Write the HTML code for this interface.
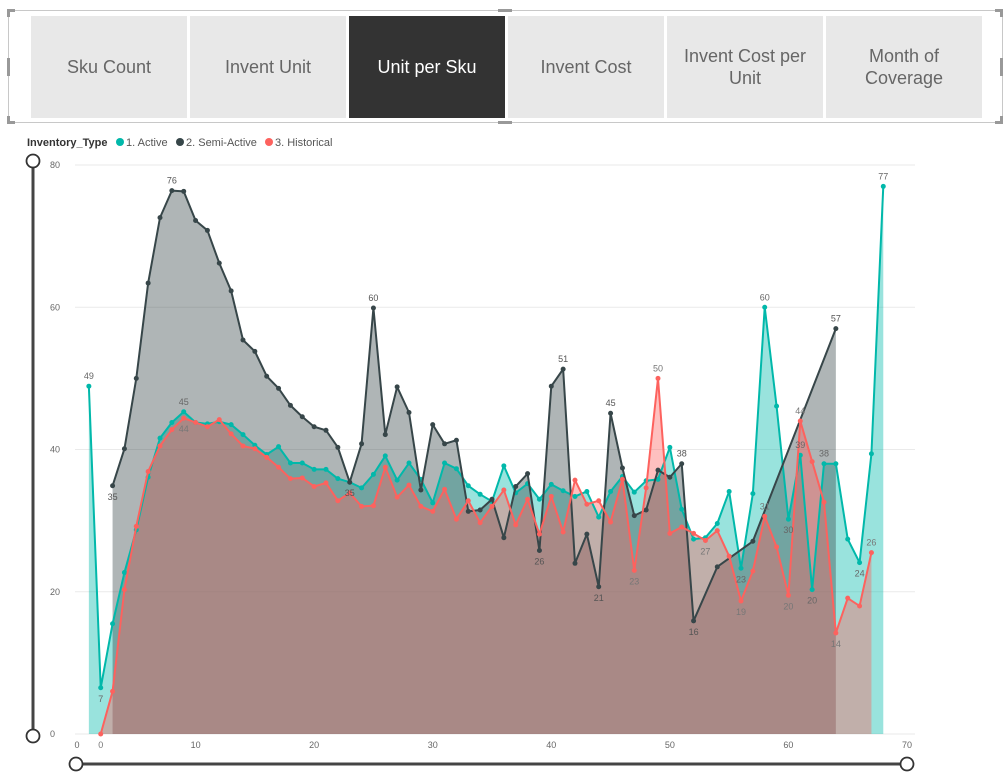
<!DOCTYPE html>
<html><head><meta charset="utf-8">
<style>
body{margin:0;width:1005px;height:783px;background:#fff;font-family:"Liberation Sans",sans-serif;overflow:hidden;position:relative}
.frame{position:absolute;left:8px;top:10px;width:995px;height:113px;border:1px solid #c8c8c8;box-sizing:border-box}
.tab{position:absolute;top:16px;height:102px;width:156px;background:#e8e8e8;color:#666;font-size:18px;display:flex;align-items:center;justify-content:center;text-align:center;line-height:22px}
.tab.sel{background:#333;color:#fff}
.h{position:absolute;background:#999}
</style></head><body>
<div class="frame"></div>
<div class="h" style="left:7px;top:9px;width:8px;height:3px"></div>
<div class="h" style="left:7px;top:9px;width:3px;height:8px"></div>
<div class="h" style="left:7px;top:58px;width:3px;height:18px"></div>
<div class="h" style="left:7px;top:116px;width:3px;height:8px"></div>
<div class="h" style="left:7px;top:121px;width:8px;height:3px"></div>
<div class="h" style="left:498px;top:9px;width:14px;height:3px"></div>
<div class="h" style="left:498px;top:121px;width:14px;height:3px"></div>
<div class="h" style="left:995px;top:9px;width:8px;height:3px"></div>
<div class="h" style="left:1000px;top:9px;width:3px;height:8px"></div>
<div class="h" style="left:1000px;top:58px;width:3px;height:18px"></div>
<div class="h" style="left:1000px;top:116px;width:3px;height:8px"></div>
<div class="h" style="left:995px;top:121px;width:8px;height:3px"></div>
<div class="tab" style="left:31px">Sku Count</div>
<div class="tab" style="left:190px">Invent Unit</div>
<div class="tab sel" style="left:349px">Unit per Sku</div>
<div class="tab" style="left:508px">Invent Cost</div>
<div class="tab" style="left:667px">Invent Cost per<br>Unit</div>
<div class="tab" style="left:826px">Month of<br>Coverage</div>

<svg id="chart" width="1005" height="783" style="position:absolute;left:0;top:0"></svg>

<script>
const xs = [];for(let i=1;i<=68;i++)xs.push(i);
const activeVals=[48.9,6.5,15.5,22.7,28.7,36.1,41.6,43.8,45.3,43.8,43.6,43.9,43.5,42.1,40.6,39.3,40.4,38.1,38.1,37.2,37.2,35.9,35.4,34.6,36.5,39.1,35.7,38.1,35.8,32.5,38.1,37.3,34.9,33.7,32.7,37.7,33.9,35.2,33.0,35.1,34.2,33.4,34.1,30.5,34.1,36.2,34.0,35.6,35.8,40.3,31.6,27.4,27.6,29.6,34.1,23.3,33.8,60.0,46.1,30.2,39.2,20.3,38.0,38.0,27.4,24.1,39.4,77.0];
const semiVals=[null,null,34.9,40.1,50.0,63.4,72.6,76.4,76.3,72.2,70.8,66.2,62.3,55.4,53.8,50.3,48.6,46.2,44.6,43.2,42.7,40.3,35.4,40.8,59.9,42.1,48.8,45.2,34.3,43.5,40.8,41.3,31.3,31.5,33.0,27.6,34.8,36.6,25.8,48.9,51.3,24.0,28.1,20.7,45.1,37.4,30.7,31.5,37.1,36.1,38.0,15.9,null,23.5,null,null,27.1,null,null,null,null,null,null,57.0,null,null,null,null];
const histVals=[null,0,6.0,20.3,29.2,36.9,40.5,42.8,44.4,43.8,43.2,44.2,42.2,40.5,40.1,38.9,37.5,35.9,36.0,34.8,35.3,32.8,33.9,32.0,32.1,37.5,33.3,35.0,32.0,31.3,34.4,30.2,32.8,29.7,32.0,34.3,29.4,33.0,28.1,33.4,28.4,35.7,32.3,32.8,29.8,35.8,23.0,34.6,50.0,28.2,29.1,28.2,27.2,28.6,25.0,18.7,22.9,30.6,26.3,19.5,44.0,38.3,32.6,14.2,19.1,18.0,25.5,null];
const yTicks=[0,20,40,60,80];
const xTicks=[0,10,20,30,40,50,60,70];
const activeLabels=[1,2,9,56,58,60,61,62,63,66,68];
const semiLabels=[3,8,23,25,39,41,44,45,51,52,64];
const histLabels=[2,9,47,49,53,56,58,60,61,64,67];
const belowSet={a:[2,56,60,62,66],s:[3,23,39,44,52],h:[2,9,47,53,56,60,64]};

const NS="http://www.w3.org/2000/svg";
const svg=document.getElementById('chart');
const X=v=>77+v*(830/70);
const Y=v=>734-v*(569/80);
function mk(t,a,p){const e=document.createElementNS(NS,t);for(const k in a)e.setAttribute(k,a[k]);(p||svg).appendChild(e);return e;}

const lg=mk('text',{x:27,y:146,'font-size':11,fill:'#333','font-weight':'bold'});lg.textContent='Inventory_Type';


[['#01B8AA','1. Active',120],['#374649','2. Semi-Active',180],['#FD625E','3. Historical',269]].forEach(([c,t,x])=>{
 const g=mk('g',{});
 
 
 mk('circle',{cx:x,cy:142,r:4,fill:c},g);
 const tx=mk('text',{x:x+6,y:146,'font-size':11,fill:'#555'},g);tx.textContent=t;
});

yTicks.forEach(v=>{
 const l=mk('line',{x1:75,x2:915,y1:Y(v),y2:Y(v),stroke:'#eaeaea','stroke-width':1});
 
 
 const t=mk('text',{x:50,y:Y(v)+3,'font-size':9,fill:'#666'});t.textContent=v;
 
 
});
xTicks.forEach(v=>{
 const t=mk('text',{x:X(v),y:748,'font-size':9,fill:'#666','text-anchor':'middle'});t.textContent=v;
 
 
});

function pts(vals){const p=[];vals.forEach((v,i)=>{if(v!==null)p.push([X(xs[i]),Y(v)]);});return p;}
function series(vals,color,fill,name){
 const p=pts(vals);
 const d='M'+p[0][0]+','+Y(0)+' '+p.map(q=>'L'+q[0]+','+q[1]).join(' ')+' L'+p[p.length-1][0]+','+Y(0)+'Z';
 const a=mk('path',{d:d,fill:fill});
 
 
 return p;
}
const pa=series(activeVals,'#01B8AA','rgba(1,184,170,0.4)','active');
const ps=series(semiVals,'#374649','rgba(55,70,73,0.4)','semi-active');
const ph=series(histVals,'#FD625E','rgba(253,98,94,0.4)','historical');
function line(p,c,name){
 const l=mk('polyline',{points:p.map(q=>q.join(',')).join(' '),fill:'none',stroke:c,'stroke-width':2,'stroke-linejoin':'round'});
 
 
 p.forEach(q=>{const c2=mk('circle',{cx:q[0],cy:q[1],r:2.5,fill:c});
  
  });
}
line(pa,'#01B8AA','active');line(ps,'#374649','semi-active');line(ph,'#FD625E','historical');

function labels(vals,list,below,name,col){
 list.forEach(x=>{const v=vals[x-1];if(v===null)return;
  const b=below.includes(x);
  const t=mk('text',{x:X(x),y:b?Y(v)+14:Y(v)-7,'font-size':9,fill:col,'text-anchor':'middle'});
  t.textContent=Math.round(v);
  
  
 });
}
labels(activeVals,activeLabels,belowSet.a,'active','#666');
labels(semiVals,semiLabels,belowSet.s,'semi-active','#555');
labels(histVals,histLabels,belowSet.h,'historical','#777');

const vs=mk('line',{x1:33,x2:33,y1:162,y2:735,stroke:'#444','stroke-width':3});


[161,736].forEach(y=>{const c=mk('circle',{cx:33,cy:y,r:6.5,fill:'#fff',stroke:'#333','stroke-width':1.8});
 
 });
const hs=mk('line',{x1:76,x2:907,y1:764,y2:764,stroke:'#444','stroke-width':3});


[76,907].forEach(x=>{const c=mk('circle',{cx:x,cy:764,r:6.5,fill:'#fff',stroke:'#333','stroke-width':1.8});
 
 });
</script>
</body></html>
